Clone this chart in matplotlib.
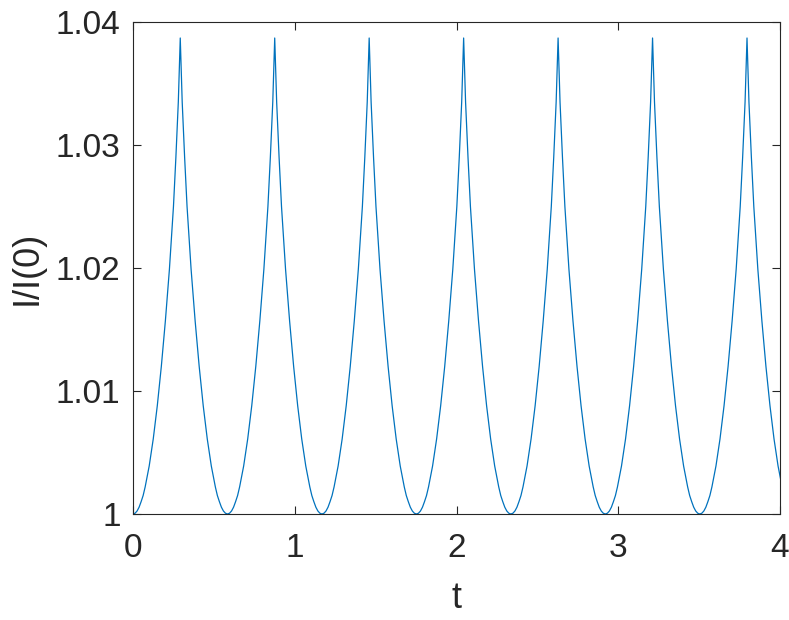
import numpy as np
import matplotlib
matplotlib.use("Agg")
from matplotlib import pyplot as plt

# one oscillation, minimum to minimum
cycle_dt = [0.0, 0.0125, 0.025, 0.0375, 0.05, 0.0625, 0.075, 0.10, 0.125,
            0.15, 0.175, 0.20, 0.225, 0.25, 0.265, 0.28, 0.292,
            0.304, 0.319, 0.334, 0.359, 0.384, 0.409, 0.434, 0.459, 0.484,
            0.509, 0.5215, 0.534, 0.5465, 0.559, 0.5715, 0.584]
cycle_val = [1.0, 1.00006, 1.00024, 1.00055, 1.0010, 1.0015, 1.0022, 1.0039,
             1.0061, 1.0088, 1.0120, 1.0157, 1.0199, 1.0250, 1.0290, 1.0335,
             1.0387,
             1.0335, 1.0290, 1.0250, 1.0199, 1.0157, 1.0120, 1.0088, 1.0061,
             1.0039, 1.0022, 1.0015, 1.0010, 1.00055, 1.00024, 1.00006, 1.0]
# times of the minima
cycle_starts = [0.0, 0.584, 1.168, 1.752, 2.336, 2.920, 3.504]

x_ticks = [0, 1, 2, 3, 4]
y_ticks = [1.0, 1.01, 1.02, 1.03, 1.04]
y_tick_labels = ["1", "1.01", "1.02", "1.03", "1.04"]

plt.rcParams["font.family"] = ["Liberation Sans", "DejaVu Sans"]

fig = plt.figure(figsize=(7.89, 6.2), dpi=100)
ax = fig.add_axes([0.1686, 0.171, 0.82, 0.7935])

t = np.concatenate([s + np.array(cycle_dt) for s in cycle_starts])
y = np.concatenate([np.array(cycle_val) for s in cycle_starts])
ax.plot(t, y, color="#0072BD", lw=0.9)

ax.set_xlim(0, 4)
ax.set_ylim(1.0, 1.04)
ax.set_xticks(x_ticks)
ax.set_yticks(y_ticks)
ax.set_yticklabels(y_tick_labels)
ax.tick_params(direction="in", length=6, width=0.8, colors="#262626",
               labelsize=24, top=True, right=True)
ax.tick_params(axis="x", pad=14)
ax.tick_params(axis="y", pad=9)
for s in ax.spines.values():
    s.set_color("#262626")
    s.set_linewidth(0.8)

ax.set_xlabel("t", fontsize=26, color="#262626", labelpad=12)
ax.set_ylabel("I/I(0)", fontsize=26, color="#262626", labelpad=8)

fig.savefig("out.png", dpi=100)
